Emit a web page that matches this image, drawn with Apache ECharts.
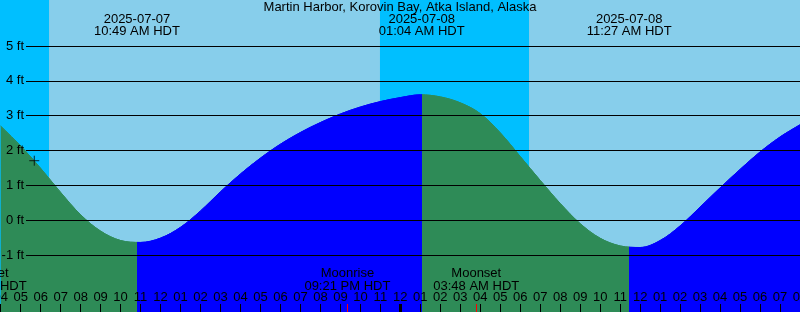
<!DOCTYPE html>
<html><head><meta charset="utf-8">
<script src="https://cdn.jsdelivr.net/npm/echarts@6/dist/echarts.min.js"></script>
<style>html,body{margin:0;padding:0;background:#87CEEB;overflow:hidden}#c{width:800px;height:312px}</style>
</head><body><div id="c"></div>
<script>
// ---- data (hours counted from 2025-07-07 00:00 HDT) ----
const title = 'Martin Harbor, Korovin Bay, Atka Island, Alaska';
const hours = [4,5,6,7,8,9,10,11,12,13,14,15,16,17,18,19,20,21,22,23,24,25,26,27,28,29,30,31,32,33,34,35,36,37,38,39,40,41,42,43,44];
const heights = [2.70,2.13,1.49,0.80,0.16,-0.31,-0.58,-0.635,-0.51,-0.20,0.27,0.82,1.33,1.785,2.185,2.52,2.805,3.05,3.25,3.405,3.52,3.60,3.54,3.37,3.06,2.51,1.83,1.145,0.485,-0.095,-0.515,-0.735,-0.78,-0.58,-0.16,0.38,0.93,1.46,1.96,2.39,2.74];
const extremeTimes = [10.817, 25.067, 35.45];
const extremeHeights = [-0.64, 3.61, -0.80];
const extremeDates = ['2025-07-07', '2025-07-08', '2025-07-08'];
const extremeClock = ['10:49 AM HDT', '01:04 AM HDT', '11:27 AM HDT'];
const moonTimes = [3.15, 21.35, 27.8];
const moonEvents = ['Moonset', 'Moonrise', 'Moonset'];
const moonClock = ['03:09 AM HDT', '09:21 PM HDT', '03:48 AM HDT'];
const nightStarts = [3.0, 22.98];
const nightEnds = [6.42, 30.44];
const ftTicks = [-1, 0, 1, 2, 3, 4, 5];
const hourTicks = [4,5,6,7,8,9,10,11,12,13,14,15,16,17,18,19,20,21,22,23,24,25,26,27,28,29,30,31,32,33,34,35,36,37,38,39,40,41,42,43,44];
const midnightTicks = [24];
const nowTime = 5.68, nowHeight = 1.71;
const xMin = 3.965, xMax = 44.0, yMin = -2.63, yMax = 6.32;

const FONT = '"Liberation Sans", Arial, sans-serif';
const FS = 13;
const EBB = '#2E8B57', FLOOD = '#0000FF', DAY = '#87CEEB', NIGHT = '#00BFFF';

// ebb (falling, toward a low) / flood (rising, toward a high) pieces split at the extremes
const bounds = [-Infinity].concat(extremeTimes, [Infinity]);
const pieces = [];
for (let k = 0; k < bounds.length - 1; k++) {
  let towardLow;
  if (k < extremeTimes.length) {
    const other = extremeHeights[k + 1] !== undefined ? extremeHeights[k + 1] : extremeHeights[k - 1];
    towardLow = extremeHeights[k] < other;
  } else {
    towardLow = extremeHeights[k - 1] > extremeHeights[k - 2];
  }
  const piece = { color: towardLow ? EBB : FLOOD };
  if (bounds[k] !== -Infinity) piece.gt = bounds[k];
  if (bounds[k + 1] !== Infinity) piece.lte = bounds[k + 1];
  pieces.push(piece);
}

const pad = v => { const h = (v % 12) || 12; return (h < 10 ? '0' : '') + h; };
const inRange = v => v >= xMin && v <= xMax;
const noLine = { show: false, onZero: false };

const chart = echarts.init(document.getElementById('c'), null, { renderer: 'canvas' });
const option = {
  animation: false,
  backgroundColor: DAY,
  grid: [
    { left: 0, right: 0, top: 0, bottom: 0, containLabel: false, outerBoundsMode: 'none' },
    { left: 26, right: 0, top: 0, bottom: 0, containLabel: false, outerBoundsMode: 'none' }
  ],
  visualMap: { show: false, type: 'piecewise', dimension: 0, seriesIndex: 1, pieces: pieces },
  xAxis: [
    { gridIndex: 0, type: 'value', min: xMin, max: xMax, position: 'bottom', z: 5,
      axisLine: noLine, splitLine: { show: false },
      axisTick: { show: true, inside: true, length: 8, customValues: hourTicks, lineStyle: { color: '#000', width: 1 } },
      axisLabel: { show: true, inside: true, customValues: hourTicks, formatter: pad, color: '#000',
        fontSize: FS, fontFamily: FONT, margin: 14.5, verticalAlign: 'middle' } },
    { gridIndex: 0, type: 'value', min: xMin, max: xMax, position: 'bottom', z: 6,
      axisLine: noLine, splitLine: { show: false }, axisLabel: { show: false },
      axisTick: { show: true, inside: true, length: 8, customValues: midnightTicks, lineStyle: { color: '#000', width: 3 } } },
    { gridIndex: 0, type: 'value', min: xMin, max: xMax, position: 'bottom', z: 6,
      axisLine: noLine, splitLine: { show: false }, axisLabel: { show: false },
      axisTick: { show: true, inside: true, length: 8, customValues: moonTimes.filter(inRange), lineStyle: { color: '#FF0000', width: 1 } } },
    { gridIndex: 1, type: 'value', min: xMin, max: xMax, show: false, axisLine: noLine }
  ],
  yAxis: [
    { gridIndex: 0, type: 'value', min: yMin, max: yMax, show: false, axisLine: noLine },
    { gridIndex: 1, type: 'value', min: yMin, max: yMax, show: false, axisLine: noLine }
  ],
  series: [
    { type: 'line', xAxisIndex: 0, yAxisIndex: 0, z: 1, silent: true, symbol: 'none',
      data: [[hours[0], heights[0]]], lineStyle: { opacity: 0 },
      markArea: { silent: true, itemStyle: { color: NIGHT, opacity: 1 },
        data: nightStarts.map((s, i) => [{ xAxis: s }, { xAxis: nightEnds[i] }]) } },
    { type: 'line', xAxisIndex: 0, yAxisIndex: 0, z: 2, silent: true, symbol: 'none',
      smooth: 0.35,
      data: hours.map((h, i) => [h, heights[i]]),
      lineStyle: { width: 1 },
      areaStyle: { opacity: 1, origin: 'start' } },
    { type: 'line', xAxisIndex: 3, yAxisIndex: 1, z: 4, silent: true, symbol: 'none',
      data: [[hours[0], ftTicks[0]]], lineStyle: { opacity: 0 },
      markLine: { silent: true, symbol: ['none', 'none'],
        lineStyle: { color: '#000', width: 1, type: 'solid' },
        label: { show: true, position: 'start', distance: 2, color: '#000', fontSize: FS, fontFamily: FONT,
          formatter: p => p.value + ' ft' },
        data: ftTicks.map(v => ({ yAxis: v })) } },
    { type: 'scatter', xAxisIndex: 0, yAxisIndex: 0, z: 8, silent: true,
      data: [[nowTime, nowHeight]], symbol: 'path://M0,5L10,5M5,0L5,10', symbolSize: 10,
      itemStyle: { color: 'rgba(0,0,0,0)', borderColor: '#000', borderWidth: 1 } }
  ]
};
chart.setOption(option);

const txt = (text, x, y) => ({ type: 'text', z: 20, x: x, y: y,
  style: { text: text, font: FS + 'px ' + FONT, fill: '#000', textAlign: 'center', textVerticalAlign: 'middle' } });
const graphics = [txt(title, 400, 7.8)];
extremeTimes.forEach((t, i) => {
  const p = chart.convertToPixel({ gridIndex: 0 }, [t, extremeHeights[i]]);
  graphics.push(txt(extremeDates[i], p[0], 19.8));
  graphics.push(txt(extremeClock[i], p[0], 31.8));
});
moonTimes.forEach((t, i) => {
  const p = chart.convertToPixel({ gridIndex: 0 }, [t, 0]);
  graphics.push(txt(moonEvents[i], p[0], 273.5));
  graphics.push(txt(moonClock[i], p[0], 286));
});
chart.setOption({ graphic: graphics });
</script>
</body></html>
